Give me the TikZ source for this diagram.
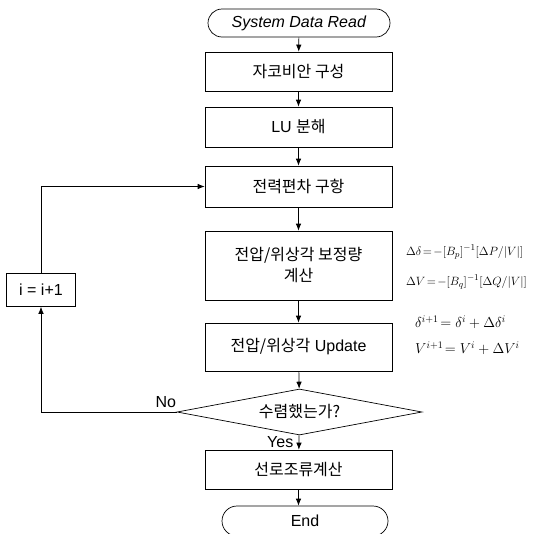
\documentclass[tikz,border=0pt]{standalone}
\usepackage{amsmath, amssymb}
\usepackage{fontspec}
\setmainfont{Liberation Sans}
\newfontfamily\kr{Noto Sans CJK KR}
\usetikzlibrary{arrows.meta,shapes.geometric,shapes.misc}

\tikzset{
  procbox/.style={draw, line width=0.7pt, minimum width=187pt, inner sep=0pt, align=center},
  termbox/.style={draw, line width=0.7pt, rounded rectangle, inner sep=0pt},
  flow/.style={line width=0.7pt, -{Latex[length=7pt,width=5.5pt]}},
  eqtext/.style={anchor=west, inner sep=0pt, font=\fontsize{13pt}{15pt}\selectfont}
}

\begin{document}
\begin{tikzpicture}[x=1pt, y=-1pt, font=\fontsize{16pt}{19pt}\selectfont]
\useasboundingbox (0,0) rectangle (549,533);
\node[termbox, minimum width=182pt, minimum height=28pt] (start) at (299,23) {\textit{System Data Read}};
\node[procbox, minimum height=39pt] (jac) at (298.5,71.5) {{\kr 자코비안 구성}};
\node[procbox, minimum height=40pt] (lu) at (298.5,127) {LU {\kr 분해}};
\node[procbox, minimum height=41pt] (mis) at (298.5,186.5) {{\kr 전력편차 구항}};
\node[procbox, minimum height=69pt] (corr) at (298.5,265.5) {{\kr 전압/위상각 보정량}\\[2pt]{\kr 계산}};
\node[procbox, minimum height=48pt] (upd) at (298.5,347) {{\kr 전압/위상각} Update};
\node[draw, line width=0.7pt, diamond, aspect=5.3, minimum width=245pt, minimum height=46pt, inner sep=0pt] (conv) at (299.5,412) {{\kr 수렴했는가?}};
\node[procbox, minimum height=39pt] (flow) at (298.5,469.5) {{\kr 선로조류계산}};
\node[termbox, minimum width=166pt, minimum height=30pt] (end) at (305,521) {End};
\node[draw, line width=0.7pt, minimum width=69pt, minimum height=33pt, inner sep=0pt] (inc) at (41,290) {i = i+1};
\draw[flow] (start) -- (jac);
\draw[flow] (jac) -- (lu);
\draw[flow] (lu) -- (mis);
\draw[flow] (mis) -- (corr);
\draw[flow] (corr) -- (upd);
\draw[flow] (upd) -- (conv);
\draw[flow] (conv) -- (flow) node [pos=0.45, left=2pt] {Yes};
\draw[flow] (flow) -- (flow |- end.north);
\draw[flow] (conv.west) -| (inc.south) node [pos=0.04, above=1pt] {No};
\draw[flow] (inc.north) |- (mis.west);
\node[eqtext] (eqa) at (406,252) {$\Delta\delta\!=\!-[B_p]^{-1}[\Delta P/|V|]$};
\node[eqtext] (eqb) at (406,282) {$\Delta V\!=\!-[B_q]^{-1}[\Delta Q/|V|]$};
\node[eqtext, font=\fontsize{14pt}{16pt}\selectfont] (eqc) at (415,322) {$\delta^{i+1}\!=\delta^{i}+\Delta\delta^{i}$};
\node[eqtext, font=\fontsize{14pt}{16pt}\selectfont] (eqd) at (415,348) {$V^{i+1}\!=V^{i}+\Delta V^{i}$};
\end{tikzpicture}
\end{document}
